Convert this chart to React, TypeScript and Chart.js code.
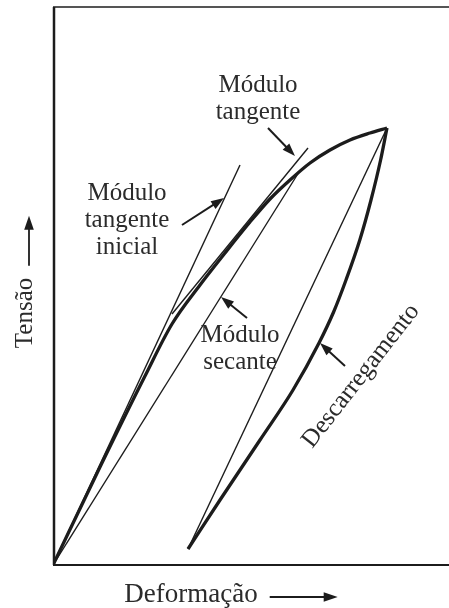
import React, { useEffect, useRef } from "react";
import { Chart, registerables } from "chart.js";

Chart.register(...registerables);

// ---- data (strain on x, stress on y, arbitrary units) ----
const loadingX = [0, 47, 92, 119, 147, 172, 197, 217, 237, 257, 277, 297, 317, 334];
const loadingY = [0, 98, 189, 241, 280, 312, 343, 366, 385, 402, 415, 425, 432, 437];

const unloadingX = [135, 167, 207, 240, 266, 280.6, 293, 306.8, 318, 327.6, 334];
const unloadingY = [16, 65, 125, 175, 222, 253, 285, 325, 365, 405, 437];

const initialTangentX = [0, 187];
const initialTangentY = [0, 400];

const tangentX = [119, 255];
const tangentY = [251, 417];

const secantX = [0, 246];
const secantY = [0, 393];

const chordX = [135, 334];
const chordY = [16, 437];

const xMax = 396;
const yMax = 558;

const xTitle = "Deformação";
const yTitle = "Tensão";

// annotation texts (anchored in data units)
const labels = [
  { lines: ["Módulo", "tangente", "inicial"], x: 74, y: 372 },
  { lines: ["Módulo", "tangente"], x: 205, y: 480 },
  { lines: ["Módulo", "secante"], x: 187, y: 230 },
];
const rotatedLabel = { text: "Descarregamento", x: 308, y: 189, angle: -52 };

// pointer arrows (data units): from -> to
const pointers = [
  { fx: 129, fy: 340, tx: 171, ty: 367 },
  { fx: 215, fy: 437, tx: 242, ty: 409 },
  { fx: 194, fy: 247, tx: 168, ty: 268 },
  { fx: 292, fy: 199, tx: 267, ty: 222 },
];

const toPts = (xs: number[], ys: number[]) => xs.map((x, i) => ({ x, y: ys[i] }));

const INK = "#1c1c1c";
const TEXT = "#2b2b2b";
const FONT = "'Liberation Serif', 'DejaVu Serif', serif";

function arrow(
  ctx: CanvasRenderingContext2D,
  x1: number,
  y1: number,
  x2: number,
  y2: number,
  len: number,
  half: number,
  lw: number
) {
  const a = Math.atan2(y2 - y1, x2 - x1);
  const c = Math.cos(a);
  const s = Math.sin(a);
  ctx.beginPath();
  ctx.moveTo(x1, y1);
  ctx.lineTo(x2 - len * 0.7 * c, y2 - len * 0.7 * s);
  ctx.lineWidth = lw;
  ctx.stroke();
  const bx = x2 - len * c;
  const by = y2 - len * s;
  ctx.beginPath();
  ctx.moveTo(x2, y2);
  ctx.lineTo(bx - half * s, by + half * c);
  ctx.lineTo(bx + half * s, by - half * c);
  ctx.closePath();
  ctx.fill();
}

const decorPlugin = {
  id: "decor",
  afterDraw(chart: any) {
    const { ctx, chartArea, scales } = chart;
    const xs = scales.x;
    const ys = scales.y;
    const px = (v: number) => xs.getPixelForValue(v);
    const py = (v: number) => ys.getPixelForValue(v);
    ctx.save();
    ctx.strokeStyle = INK;
    ctx.fillStyle = INK;
    ctx.lineCap = "butt";

    // frame
    ctx.lineWidth = 2.5;
    ctx.beginPath();
    ctx.moveTo(chartArea.left + 1, chartArea.top);
    ctx.lineTo(chartArea.left + 1, chartArea.bottom);
    ctx.stroke();
    ctx.lineWidth = 1.6;
    ctx.beginPath();
    ctx.moveTo(chartArea.left, chartArea.top);
    ctx.lineTo(chartArea.right, chartArea.top);
    ctx.stroke();
    ctx.lineWidth = 2;
    ctx.beginPath();
    ctx.moveTo(chartArea.left, chartArea.bottom);
    ctx.lineTo(chartArea.right, chartArea.bottom);
    ctx.stroke();

    // pointer arrows
    for (const p of pointers) {
      arrow(ctx, px(p.fx), py(p.fy), px(p.tx), py(p.ty), 13, 4.6, 2);
    }

    // annotation labels
    ctx.fillStyle = TEXT;
    ctx.font = `25px ${FONT}`;
    ctx.textAlign = "center";
    ctx.textBaseline = "middle";
    for (const l of labels) {
      const cx = px(l.x);
      const cy = py(l.y);
      l.lines.forEach((t, i) => ctx.fillText(t, cx, cy + i * 27));
    }
    ctx.save();
    ctx.translate(px(rotatedLabel.x), py(rotatedLabel.y));
    ctx.rotate((rotatedLabel.angle * Math.PI) / 180);
    ctx.fillText(rotatedLabel.text, 0, 0);
    ctx.restore();

    // axis titles with arrows
    ctx.font = `27px ${FONT}`;
    const xT = chartArea.left + 138;
    const xTy = chartArea.bottom + 30;
    ctx.fillText(xTitle, xT, xTy);
    const xw = ctx.measureText(xTitle).width;
    ctx.fillStyle = INK;
    arrow(ctx, xT + xw / 2 + 12, xTy + 2, xT + xw / 2 + 80, xTy + 2, 14, 4.8, 1.8);

    ctx.fillStyle = TEXT;
    ctx.font = `25px ${FONT}`;
    const yTx = chartArea.left - 28;
    const yTy = 313;
    ctx.save();
    ctx.translate(yTx, yTy);
    ctx.rotate(-Math.PI / 2);
    ctx.fillText(yTitle, 0, 0);
    ctx.restore();
    const yw = ctx.measureText(yTitle).width;
    ctx.fillStyle = INK;
    arrow(ctx, yTx + 4, yTy - yw / 2 - 12, yTx + 4, yTy - yw / 2 - 62, 14, 4.8, 1.8);

    ctx.restore();
  },
};

export default function App() {
  const ref = useRef<HTMLCanvasElement | null>(null);

  useEffect(() => {
    if (!ref.current) return;
    const thin = {
      borderColor: INK,
      borderWidth: 1.4,
      pointRadius: 0,
      showLine: true,
      tension: 0,
      fill: false,
    };
    const thick = {
      borderColor: INK,
      borderWidth: 3.3,
      pointRadius: 0,
      showLine: true,
      cubicInterpolationMode: "monotone",
      fill: false,
    };
    const chart = new Chart(ref.current, {
      type: "scatter",
      data: {
        datasets: [
          { label: "Carregamento", data: toPts(loadingX, loadingY), ...thick },
          { label: "Descarregamento", data: toPts(unloadingX, unloadingY), ...thick },
          { label: "Módulo tangente inicial", data: toPts(initialTangentX, initialTangentY), ...thin },
          { label: "Módulo tangente", data: toPts(tangentX, tangentY), ...thin },
          { label: "Módulo secante", data: toPts(secantX, secantY), ...thin },
          { label: "Corda", data: toPts(chordX, chordY), ...thin },
        ] as any,
      },
      options: {
        animation: false,
        responsive: false,
        devicePixelRatio: 1,
        layout: { padding: { left: 53, right: 0, top: 7, bottom: 43 } },
        plugins: {
          legend: { display: false },
          tooltip: { enabled: false },
        },
        scales: {
          x: { type: "linear", min: 0, max: xMax, display: false },
          y: { type: "linear", min: 0, max: yMax, display: false },
        },
      },
      plugins: [decorPlugin],
    });
    return () => chart.destroy();
  }, []);

  return (
    <div style={{ position: "absolute", left: 0, top: 0, width: 449, height: 608, background: "#fff" }}>
      <canvas ref={ref} width={449} height={608} style={{ width: 449, height: 608 }} />
    </div>
  );
}
